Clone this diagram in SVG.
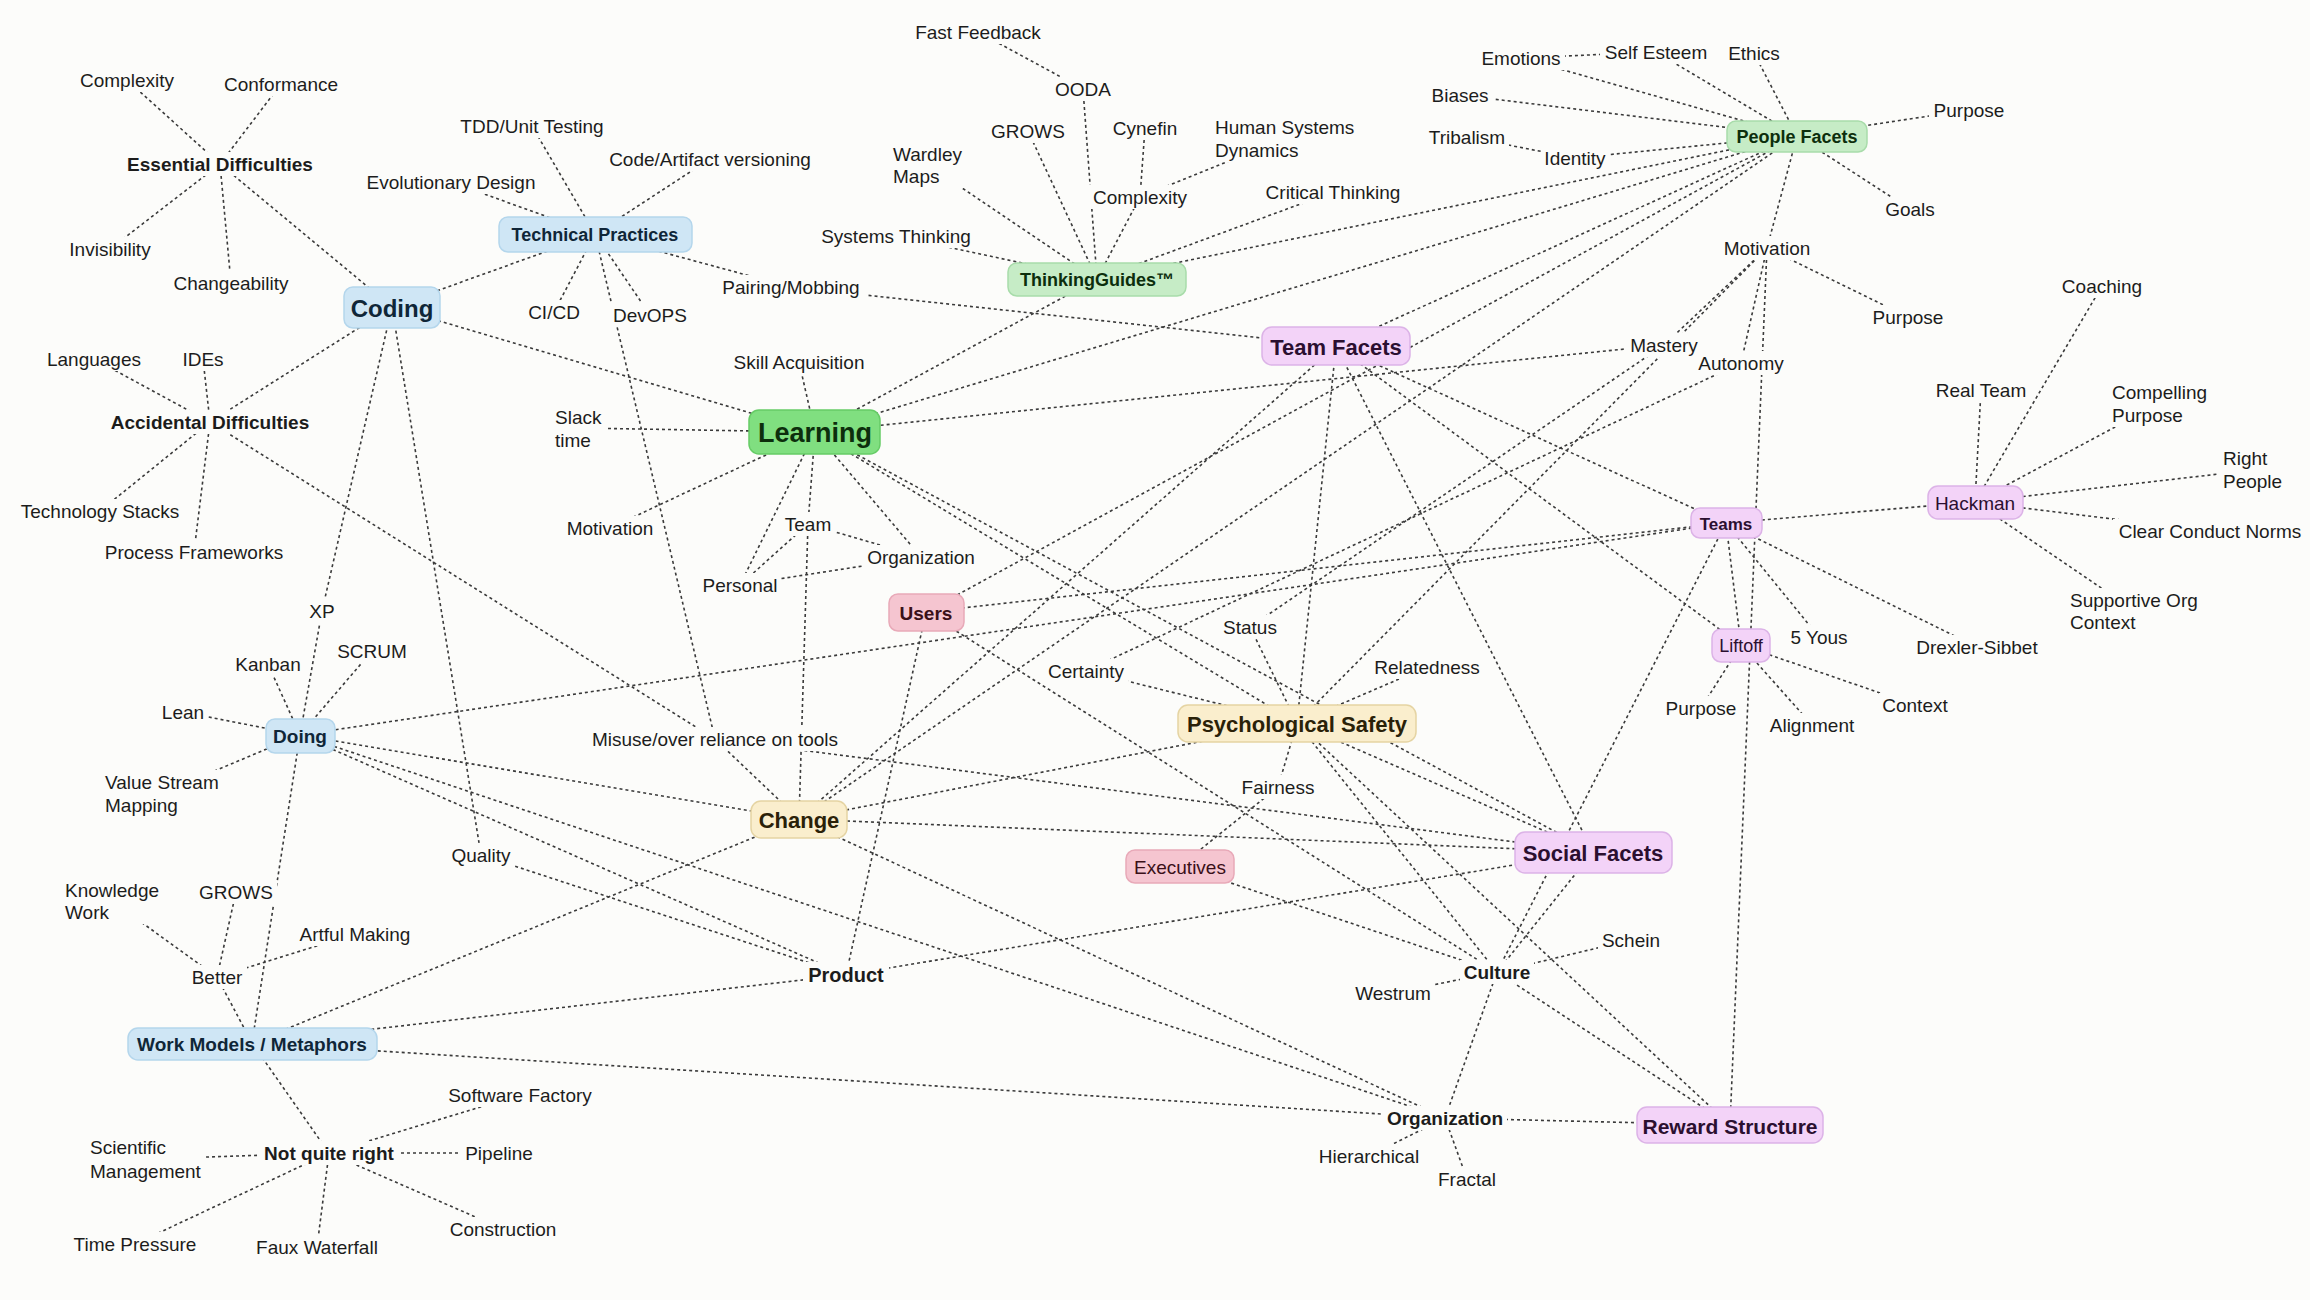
<svg xmlns="http://www.w3.org/2000/svg" width="2310" height="1300" viewBox="0 0 2310 1300">
<style>
.bg{fill:#fcfcfa}
.e line{stroke:#3a3a3a;stroke-width:1.6;stroke-dasharray:3 3;fill:none}
text{font-family:"Liberation Sans",Arial,sans-serif;font-size:19px;fill:#1c1c1c;text-anchor:middle;dominant-baseline:central}
text.l{text-anchor:start}
text.b{font-weight:bold}
.plain{fill:#fcfcfa}
.blue{fill:#cfe6f5;stroke:#b4d6ec;stroke-width:1.5}
.green{fill:#c6ecc6;stroke:#a8dcaa;stroke-width:1.5}
.lgreen{fill:#80df80;stroke:#66cc66;stroke-width:1.5}
.purple{fill:#f3d3f8;stroke:#dcb3e7;stroke-width:1.5}
.pink{fill:#f5c5d0;stroke:#e8a9b8;stroke-width:1.5}
.yellow{fill:#faeecd;stroke:#e5d4a3;stroke-width:1.5}
.tb{fill:#0f2638}
.tg{fill:#0c2e0c}
.tp{fill:#2b0f30}
.tr{fill:#3a1018}
.ty{fill:#2a2108}
</style>
<rect class="bg" x="0" y="0" width="2310" height="1300"/>
<g id="connectors" class="e">
<line x1="127" y1="80" x2="220" y2="164"/>
<line x1="281" y1="84" x2="220" y2="164"/>
<line x1="220" y1="164" x2="110" y2="249"/>
<line x1="220" y1="164" x2="231" y2="283"/>
<line x1="220" y1="164" x2="392" y2="307"/>
<line x1="94" y1="359" x2="210" y2="422"/>
<line x1="203" y1="359" x2="210" y2="422"/>
<line x1="210" y1="422" x2="100" y2="511"/>
<line x1="210" y1="422" x2="194" y2="552"/>
<line x1="210" y1="422" x2="392" y2="307"/>
<line x1="210" y1="422" x2="715" y2="739"/>
<line x1="392" y1="307" x2="595" y2="234"/>
<line x1="392" y1="307" x2="815" y2="432"/>
<line x1="392" y1="307" x2="322" y2="611"/>
<line x1="392" y1="307" x2="481" y2="855"/>
<line x1="532" y1="126" x2="595" y2="234"/>
<line x1="710" y1="159" x2="595" y2="234"/>
<line x1="451" y1="182" x2="595" y2="234"/>
<line x1="595" y1="234" x2="554" y2="312"/>
<line x1="595" y1="234" x2="650" y2="315"/>
<line x1="595" y1="234" x2="791" y2="287"/>
<line x1="595" y1="234" x2="715" y2="739"/>
<line x1="791" y1="287" x2="1336" y2="346"/>
<line x1="978" y1="32" x2="1083" y2="89"/>
<line x1="1083" y1="89" x2="1097" y2="279"/>
<line x1="1028" y1="131" x2="1097" y2="279"/>
<line x1="1145" y1="128" x2="1140" y2="197"/>
<line x1="1286" y1="138" x2="1140" y2="197"/>
<line x1="1140" y1="197" x2="1097" y2="279"/>
<line x1="928" y1="165" x2="1097" y2="279"/>
<line x1="896" y1="236" x2="1097" y2="279"/>
<line x1="1333" y1="192" x2="1097" y2="279"/>
<line x1="1097" y1="279" x2="1797" y2="136"/>
<line x1="1097" y1="279" x2="815" y2="432"/>
<line x1="1521" y1="58" x2="1656" y2="52"/>
<line x1="1521" y1="58" x2="1797" y2="136"/>
<line x1="1656" y1="52" x2="1797" y2="136"/>
<line x1="1754" y1="53" x2="1797" y2="136"/>
<line x1="1460" y1="95" x2="1797" y2="136"/>
<line x1="1467" y1="137" x2="1575" y2="158"/>
<line x1="1575" y1="158" x2="1797" y2="136"/>
<line x1="1797" y1="136" x2="1969" y2="110"/>
<line x1="1797" y1="136" x2="1910" y2="209"/>
<line x1="1797" y1="136" x2="1767" y2="248"/>
<line x1="1767" y1="248" x2="1908" y2="317"/>
<line x1="1767" y1="248" x2="1664" y2="345"/>
<line x1="1767" y1="248" x2="1741" y2="363"/>
<line x1="1767" y1="248" x2="1730" y2="1125"/>
<line x1="1767" y1="248" x2="1297" y2="723"/>
<line x1="1797" y1="136" x2="1336" y2="346"/>
<line x1="1797" y1="136" x2="815" y2="432"/>
<line x1="1797" y1="136" x2="926" y2="612"/>
<line x1="1797" y1="136" x2="799" y2="819"/>
<line x1="815" y1="432" x2="799" y2="362"/>
<line x1="815" y1="432" x2="578" y2="428"/>
<line x1="815" y1="432" x2="610" y2="528"/>
<line x1="815" y1="432" x2="808" y2="524"/>
<line x1="815" y1="432" x2="740" y2="585"/>
<line x1="815" y1="432" x2="921" y2="557"/>
<line x1="808" y1="524" x2="921" y2="557"/>
<line x1="740" y1="585" x2="808" y2="524"/>
<line x1="740" y1="585" x2="921" y2="557"/>
<line x1="808" y1="524" x2="799" y2="819"/>
<line x1="815" y1="432" x2="1664" y2="345"/>
<line x1="815" y1="432" x2="1297" y2="723"/>
<line x1="815" y1="432" x2="1593" y2="852"/>
<line x1="926" y1="612" x2="846" y2="975"/>
<line x1="926" y1="612" x2="1726" y2="523"/>
<line x1="926" y1="612" x2="1497" y2="972"/>
<line x1="300" y1="735" x2="322" y2="611"/>
<line x1="300" y1="735" x2="268" y2="664"/>
<line x1="300" y1="735" x2="372" y2="651"/>
<line x1="300" y1="735" x2="183" y2="712"/>
<line x1="300" y1="735" x2="162" y2="793"/>
<line x1="300" y1="735" x2="252" y2="1043"/>
<line x1="300" y1="735" x2="1726" y2="523"/>
<line x1="300" y1="735" x2="799" y2="819"/>
<line x1="300" y1="735" x2="846" y2="975"/>
<line x1="300" y1="735" x2="1445" y2="1118"/>
<line x1="715" y1="739" x2="799" y2="819"/>
<line x1="715" y1="739" x2="1593" y2="852"/>
<line x1="799" y1="819" x2="252" y2="1043"/>
<line x1="799" y1="819" x2="1336" y2="346"/>
<line x1="799" y1="819" x2="1445" y2="1118"/>
<line x1="799" y1="819" x2="1593" y2="852"/>
<line x1="799" y1="819" x2="1297" y2="723"/>
<line x1="481" y1="855" x2="846" y2="975"/>
<line x1="252" y1="1043" x2="217" y2="977"/>
<line x1="217" y1="977" x2="112" y2="901"/>
<line x1="217" y1="977" x2="236" y2="892"/>
<line x1="217" y1="977" x2="355" y2="934"/>
<line x1="252" y1="1043" x2="846" y2="975"/>
<line x1="252" y1="1043" x2="1445" y2="1118"/>
<line x1="252" y1="1043" x2="329" y2="1153"/>
<line x1="329" y1="1153" x2="520" y2="1095"/>
<line x1="329" y1="1153" x2="499" y2="1153"/>
<line x1="329" y1="1153" x2="146" y2="1159"/>
<line x1="329" y1="1153" x2="135" y2="1244"/>
<line x1="329" y1="1153" x2="317" y2="1247"/>
<line x1="329" y1="1153" x2="503" y2="1229"/>
<line x1="846" y1="975" x2="1593" y2="852"/>
<line x1="1297" y1="723" x2="1250" y2="627"/>
<line x1="1297" y1="723" x2="1086" y2="671"/>
<line x1="1297" y1="723" x2="1427" y2="667"/>
<line x1="1297" y1="723" x2="1278" y2="787"/>
<line x1="1297" y1="723" x2="1593" y2="852"/>
<line x1="1297" y1="723" x2="1497" y2="972"/>
<line x1="1297" y1="723" x2="1730" y2="1125"/>
<line x1="1297" y1="723" x2="1336" y2="346"/>
<line x1="1664" y1="345" x2="1250" y2="627"/>
<line x1="1741" y1="363" x2="1086" y2="671"/>
<line x1="1336" y1="346" x2="1726" y2="523"/>
<line x1="1336" y1="346" x2="1741" y2="645"/>
<line x1="1336" y1="346" x2="1593" y2="852"/>
<line x1="1726" y1="523" x2="1975" y2="502"/>
<line x1="1726" y1="523" x2="1741" y2="645"/>
<line x1="1726" y1="523" x2="1819" y2="637"/>
<line x1="1726" y1="523" x2="1977" y2="647"/>
<line x1="1726" y1="523" x2="1497" y2="972"/>
<line x1="1741" y1="645" x2="1701" y2="708"/>
<line x1="1741" y1="645" x2="1812" y2="725"/>
<line x1="1741" y1="645" x2="1915" y2="705"/>
<line x1="1975" y1="502" x2="1981" y2="390"/>
<line x1="1975" y1="502" x2="2102" y2="286"/>
<line x1="1975" y1="502" x2="2160" y2="403"/>
<line x1="1975" y1="502" x2="2254" y2="470"/>
<line x1="1975" y1="502" x2="2210" y2="531"/>
<line x1="1975" y1="502" x2="2135" y2="611"/>
<line x1="1278" y1="787" x2="1180" y2="866"/>
<line x1="1593" y1="852" x2="1497" y2="972"/>
<line x1="1180" y1="866" x2="1497" y2="972"/>
<line x1="1497" y1="972" x2="1631" y2="940"/>
<line x1="1497" y1="972" x2="1393" y2="993"/>
<line x1="1497" y1="972" x2="1445" y2="1118"/>
<line x1="1497" y1="972" x2="1730" y2="1125"/>
<line x1="1445" y1="1118" x2="1730" y2="1125"/>
<line x1="1445" y1="1118" x2="1369" y2="1156"/>
<line x1="1445" y1="1118" x2="1467" y2="1179"/>
</g>
<g id="n-complexity1"><rect class="plain" x="76" y="68" width="102" height="24"/><text x="127" y="80">Complexity</text></g>
<g id="n-conformance"><rect class="plain" x="220" y="72" width="122" height="24"/><text x="281" y="84">Conformance</text></g>
<g id="n-essential"><rect class="plain" x="122" y="152" width="196" height="24"/><text class="b" x="220" y="164">Essential Difficulties</text></g>
<g id="n-invisibility"><rect class="plain" x="66" y="237" width="89" height="24"/><text x="110" y="249">Invisibility</text></g>
<g id="n-changeability"><rect class="plain" x="170" y="271" width="123" height="24"/><text x="231" y="283">Changeability</text></g>
<g id="n-coding"><rect class="blue" x="344" y="287" width="96" height="41" rx="9"/><text class="b tb" x="392" y="308" style="font-size:24px">Coding</text></g>
<g id="n-languages"><rect class="plain" x="43" y="347" width="102" height="24"/><text x="94" y="359">Languages</text></g>
<g id="n-ides"><rect class="plain" x="178" y="347" width="50" height="24"/><text x="203" y="359">IDEs</text></g>
<g id="n-accidental"><rect class="plain" x="107" y="410" width="206" height="24"/><text class="b" x="210" y="422">Accidental Difficulties</text></g>
<g id="n-techstacks"><rect class="plain" x="16" y="499" width="168" height="24"/><text x="100" y="511">Technology Stacks</text></g>
<g id="n-procframe"><rect class="plain" x="101" y="540" width="186" height="24"/><text x="194" y="552">Process Frameworks</text></g>
<g id="n-tdd"><rect class="plain" x="455" y="114" width="155" height="24"/><text x="532" y="126">TDD/Unit Testing</text></g>
<g id="n-codeart"><rect class="plain" x="603" y="147" width="213" height="24"/><text x="710" y="159">Code/Artifact versioning</text></g>
<g id="n-evodesign"><rect class="plain" x="360" y="170" width="182" height="24"/><text x="451" y="182">Evolutionary Design</text></g>
<g id="n-techprac"><rect class="blue" x="499" y="217" width="193" height="35" rx="9"/><text class="b tb" x="595" y="235" style="font-size:18px">Technical Practices</text></g>
<g id="n-cicd"><rect class="plain" x="524" y="300" width="60" height="24"/><text x="554" y="312">CI/CD</text></g>
<g id="n-devops"><rect class="plain" x="608" y="303" width="84" height="24"/><text x="650" y="315">DevOPS</text></g>
<g id="n-pairing"><rect class="plain" x="717" y="275" width="149" height="24"/><text x="791" y="287">Pairing/Mobbing</text></g>
<g id="n-fastfb"><rect class="plain" x="910" y="20" width="136" height="24"/><text x="978" y="32">Fast Feedback</text></g>
<g id="n-ooda"><rect class="plain" x="1051" y="77" width="65" height="24"/><text x="1083" y="89">OODA</text></g>
<g id="n-grows1"><rect class="plain" x="987" y="119" width="82" height="24"/><text x="1028" y="131">GROWS</text></g>
<g id="n-cynefin"><rect class="plain" x="1108" y="116" width="74" height="24"/><text x="1145" y="128">Cynefin</text></g>
<g id="n-hsd"><rect class="plain" x="1211" y="115" width="146" height="47"/><text class="l" x="1215" y="127">Human Systems</text><text class="l" x="1215" y="150">Dynamics</text></g>
<g id="n-wardley"><rect class="plain" x="889" y="142" width="78" height="46"/><text class="l" x="893" y="154">Wardley</text><text class="l" x="893" y="176">Maps</text></g>
<g id="n-complexity2"><rect class="plain" x="1089" y="185" width="102" height="24"/><text x="1140" y="197">Complexity</text></g>
<g id="n-critical"><rect class="plain" x="1260" y="180" width="146" height="24"/><text x="1333" y="192">Critical Thinking</text></g>
<g id="n-systems"><rect class="plain" x="817" y="224" width="159" height="24"/><text x="896" y="236">Systems Thinking</text></g>
<g id="n-tg"><rect class="green" x="1008" y="263" width="178" height="33" rx="9"/><text class="b tg" x="1097" y="280" style="font-size:18px">ThinkingGuides™</text></g>
<g id="n-emotions"><rect class="plain" x="1477" y="46" width="88" height="24"/><text x="1521" y="58">Emotions</text></g>
<g id="n-selfesteem"><rect class="plain" x="1600" y="40" width="113" height="24"/><text x="1656" y="52">Self Esteem</text></g>
<g id="n-ethics"><rect class="plain" x="1723" y="41" width="63" height="24"/><text x="1754" y="53">Ethics</text></g>
<g id="n-biases"><rect class="plain" x="1426" y="83" width="68" height="24"/><text x="1460" y="95">Biases</text></g>
<g id="n-tribalism"><rect class="plain" x="1425" y="125" width="84" height="24"/><text x="1467" y="137">Tribalism</text></g>
<g id="n-identity"><rect class="plain" x="1541" y="146" width="68" height="24"/><text x="1575" y="158">Identity</text></g>
<g id="n-pf"><rect class="green" x="1727" y="121" width="140" height="31" rx="9"/><text class="b tg" x="1797" y="137" style="font-size:18px">People Facets</text></g>
<g id="n-purpose1"><rect class="plain" x="1929" y="98" width="80" height="24"/><text x="1969" y="110">Purpose</text></g>
<g id="n-goals"><rect class="plain" x="1882" y="197" width="57" height="24"/><text x="1910" y="209">Goals</text></g>
<g id="n-motivation1"><rect class="plain" x="1720" y="236" width="95" height="24"/><text x="1767" y="248">Motivation</text></g>
<g id="n-purpose2"><rect class="plain" x="1868" y="305" width="80" height="24"/><text x="1908" y="317">Purpose</text></g>
<g id="n-mastery"><rect class="plain" x="1626" y="333" width="77" height="24"/><text x="1664" y="345">Mastery</text></g>
<g id="n-autonomy"><rect class="plain" x="1695" y="351" width="93" height="24"/><text x="1741" y="363">Autonomy</text></g>
<g id="n-teamfacets"><rect class="purple" x="1262" y="327" width="148" height="38" rx="10"/><text class="b tp" x="1336" y="347" style="font-size:22px">Team Facets</text></g>
<g id="n-skill"><rect class="plain" x="728" y="350" width="142" height="24"/><text x="799" y="362">Skill Acquisition</text></g>
<g id="n-slack"><rect class="plain" x="551" y="405" width="56" height="47"/><text class="l" x="555" y="417">Slack</text><text class="l" x="555" y="440">time</text></g>
<g id="n-learning"><rect class="lgreen" x="749" y="410" width="131" height="44" rx="10"/><text class="b tg" x="815" y="433" style="font-size:27px">Learning</text></g>
<g id="n-motivation2"><rect class="plain" x="563" y="516" width="95" height="24"/><text x="610" y="528">Motivation</text></g>
<g id="n-team"><rect class="plain" x="782" y="512" width="52" height="24"/><text x="808" y="524">Team</text></g>
<g id="n-org1"><rect class="plain" x="863" y="545" width="116" height="24"/><text x="921" y="557">Organization</text></g>
<g id="n-personal"><rect class="plain" x="700" y="573" width="81" height="24"/><text x="740" y="585">Personal</text></g>
<g id="n-users"><rect class="pink" x="889" y="594" width="75" height="37" rx="9"/><text class="b tr" x="926" y="613">Users</text></g>
<g id="n-coaching"><rect class="plain" x="2058" y="274" width="88" height="24"/><text x="2102" y="286">Coaching</text></g>
<g id="n-realteam"><rect class="plain" x="1932" y="378" width="99" height="24"/><text x="1981" y="390">Real Team</text></g>
<g id="n-compelling"><rect class="plain" x="2108" y="380" width="103" height="47"/><text class="l" x="2112" y="392">Compelling</text><text class="l" x="2112" y="415">Purpose</text></g>
<g id="n-rightpeople"><rect class="plain" x="2219" y="446" width="68" height="47"/><text class="l" x="2223" y="458">Right</text><text class="l" x="2223" y="481">People</text></g>
<g id="n-hackman"><rect class="purple" x="1928" y="486" width="95" height="33" rx="10"/><text class="tp" x="1975" y="503">Hackman</text></g>
<g id="n-clearnorms"><rect class="plain" x="2113" y="519" width="194" height="24"/><text x="2210" y="531">Clear Conduct Norms</text></g>
<g id="n-supportive"><rect class="plain" x="2066" y="588" width="136" height="47"/><text class="l" x="2070" y="600">Supportive Org</text><text class="l" x="2070" y="622">Context</text></g>
<g id="n-teams"><rect class="purple" x="1691" y="508" width="71" height="30" rx="9"/><text class="b tp" x="1726" y="524" style="font-size:17px">Teams</text></g>
<g id="n-liftoff"><rect class="purple" x="1712" y="629" width="58" height="33" rx="9"/><text class="tp" x="1741" y="646" style="font-size:18px">Liftoff</text></g>
<g id="n-fiveyous"><rect class="plain" x="1786" y="625" width="66" height="24"/><text x="1819" y="637">5 Yous</text></g>
<g id="n-drexler"><rect class="plain" x="1912" y="635" width="131" height="24"/><text x="1977" y="647">Drexler-Sibbet</text></g>
<g id="n-purpose3"><rect class="plain" x="1661" y="696" width="80" height="24"/><text x="1701" y="708">Purpose</text></g>
<g id="n-alignment"><rect class="plain" x="1766" y="713" width="92" height="24"/><text x="1812" y="725">Alignment</text></g>
<g id="n-context"><rect class="plain" x="1879" y="693" width="72" height="24"/><text x="1915" y="705">Context</text></g>
<g id="n-status"><rect class="plain" x="1218" y="615" width="64" height="24"/><text x="1250" y="627">Status</text></g>
<g id="n-certainty"><rect class="plain" x="1044" y="659" width="84" height="24"/><text x="1086" y="671">Certainty</text></g>
<g id="n-relatedness"><rect class="plain" x="1369" y="655" width="116" height="24"/><text x="1427" y="667">Relatedness</text></g>
<g id="n-ps"><rect class="yellow" x="1178" y="705" width="238" height="37" rx="10"/><text class="b ty" x="1297" y="724" style="font-size:22px">Psychological Safety</text></g>
<g id="n-fairness"><rect class="plain" x="1238" y="775" width="81" height="24"/><text x="1278" y="787">Fairness</text></g>
<g id="n-executives"><rect class="pink" x="1126" y="850" width="108" height="33" rx="9"/><text class="tr" x="1180" y="867">Executives</text></g>
<g id="n-socialfacets"><rect class="purple" x="1515" y="832" width="157" height="41" rx="10"/><text class="b tp" x="1593" y="853" style="font-size:22px">Social Facets</text></g>
<g id="n-xp"><rect class="plain" x="305" y="599" width="34" height="24"/><text x="322" y="611">XP</text></g>
<g id="n-kanban"><rect class="plain" x="232" y="652" width="72" height="24"/><text x="268" y="664">Kanban</text></g>
<g id="n-scrum"><rect class="plain" x="333" y="639" width="78" height="24"/><text x="372" y="651">SCRUM</text></g>
<g id="n-lean"><rect class="plain" x="158" y="700" width="50" height="24"/><text x="183" y="712">Lean</text></g>
<g id="n-doing"><rect class="blue" x="266" y="719" width="69" height="34" rx="9"/><text class="b tb" x="300" y="736">Doing</text></g>
<g id="n-vsm"><rect class="plain" x="101" y="770" width="123" height="47"/><text class="l" x="105" y="782">Value Stream</text><text class="l" x="105" y="805">Mapping</text></g>
<g id="n-misuse"><rect class="plain" x="585" y="727" width="260" height="24"/><text x="715" y="739">Misuse/over reliance on tools</text></g>
<g id="n-change"><rect class="yellow" x="751" y="801" width="96" height="37" rx="10"/><text class="b ty" x="799" y="820" style="font-size:22px">Change</text></g>
<g id="n-quality"><rect class="plain" x="447" y="843" width="68" height="24"/><text x="481" y="855">Quality</text></g>
<g id="n-knowledge"><rect class="plain" x="61" y="878" width="102" height="46"/><text class="l" x="65" y="890">Knowledge</text><text class="l" x="65" y="912">Work</text></g>
<g id="n-grows2"><rect class="plain" x="195" y="880" width="82" height="24"/><text x="236" y="892">GROWS</text></g>
<g id="n-artful"><rect class="plain" x="295" y="922" width="120" height="24"/><text x="355" y="934">Artful Making</text></g>
<g id="n-better"><rect class="plain" x="187" y="965" width="60" height="24"/><text x="217" y="977">Better</text></g>
<g id="n-product"><rect class="plain" x="803" y="962" width="86" height="26"/><text class="b" x="846" y="975" style="font-size:20px">Product</text></g>
<g id="n-wm"><rect class="blue" x="128" y="1028" width="249" height="32" rx="10"/><text class="b tb" x="252" y="1044">Work Models / Metaphors</text></g>
<g id="n-softfactory"><rect class="plain" x="444" y="1083" width="152" height="24"/><text x="520" y="1095">Software Factory</text></g>
<g id="n-scientific"><rect class="plain" x="86" y="1135" width="119" height="48"/><text class="l" x="90" y="1147">Scientific</text><text class="l" x="90" y="1171">Management</text></g>
<g id="n-nqr"><rect class="plain" x="260" y="1141" width="138" height="24"/><text class="b" x="329" y="1153">Not quite right</text></g>
<g id="n-pipeline"><rect class="plain" x="461" y="1141" width="76" height="24"/><text x="499" y="1153">Pipeline</text></g>
<g id="n-timepressure"><rect class="plain" x="69" y="1232" width="132" height="24"/><text x="135" y="1244">Time Pressure</text></g>
<g id="n-faux"><rect class="plain" x="251" y="1235" width="132" height="24"/><text x="317" y="1247">Faux Waterfall</text></g>
<g id="n-construction"><rect class="plain" x="444" y="1217" width="118" height="24"/><text x="503" y="1229">Construction</text></g>
<g id="n-schein"><rect class="plain" x="1598" y="928" width="66" height="24"/><text x="1631" y="940">Schein</text></g>
<g id="n-culture"><rect class="plain" x="1460" y="960" width="74" height="24"/><text class="b" x="1497" y="972">Culture</text></g>
<g id="n-westrum"><rect class="plain" x="1351" y="981" width="84" height="24"/><text x="1393" y="993">Westrum</text></g>
<g id="n-org2"><rect class="plain" x="1383" y="1106" width="124" height="24"/><text class="b" x="1445" y="1118">Organization</text></g>
<g id="n-reward"><rect class="purple" x="1637" y="1107" width="186" height="36" rx="10"/><text class="b tp" x="1730" y="1126" style="font-size:21px">Reward Structure</text></g>
<g id="n-hierarchical"><rect class="plain" x="1315" y="1144" width="108" height="24"/><text x="1369" y="1156">Hierarchical</text></g>
<g id="n-fractal"><rect class="plain" x="1435" y="1167" width="64" height="24"/><text x="1467" y="1179">Fractal</text></g>
</svg>
